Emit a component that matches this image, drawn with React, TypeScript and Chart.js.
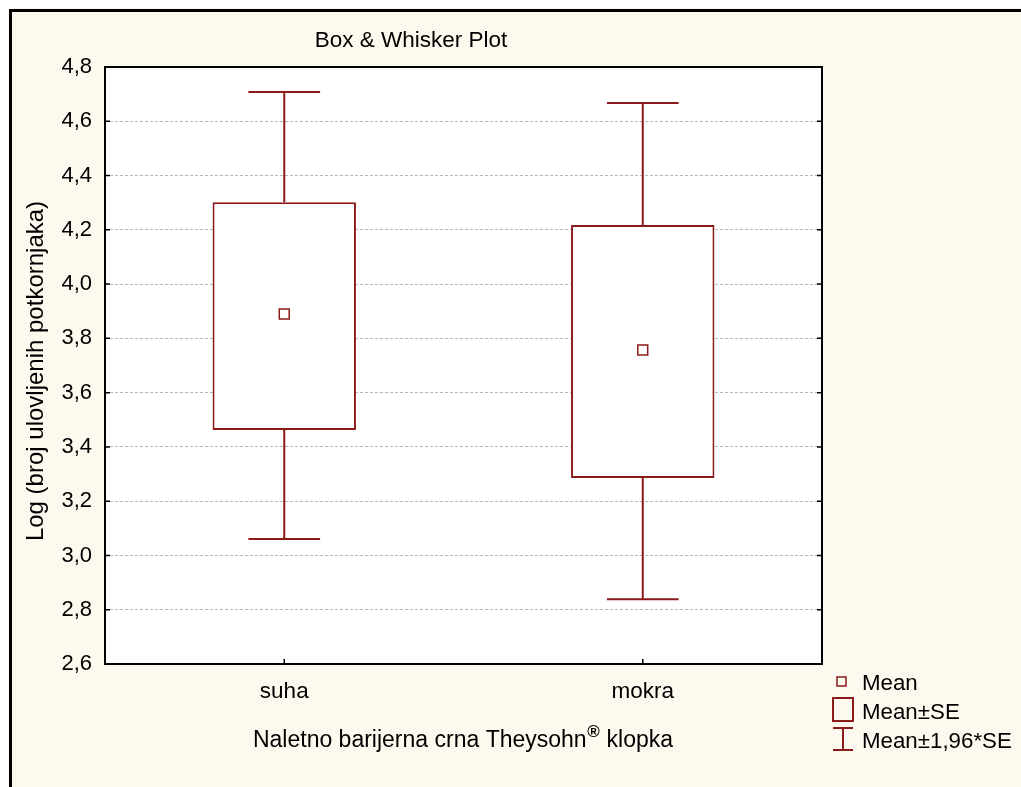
import React, { useEffect, useRef } from 'react';
import { Chart, registerables } from 'chart.js';

Chart.register(...registerables);

// ---- data ----
const categories = ['suha', 'mokra'];
const means = [3.89, 3.757];
const seLow = [3.462, 3.285];
const seHigh = [4.302, 4.218];
const ciLow = [3.061, 2.839];
const ciHigh = [4.708, 4.667];
const yTicks = [2.6, 2.8, 3.0, 3.2, 3.4, 3.6, 3.8, 4.0, 4.2, 4.4, 4.6, 4.8];
const legendLabels = ['Mean', 'Mean±SE', 'Mean±1,96*SE'];
const chartTitle = 'Box & Whisker Plot';
const xTitleParts = ['Naletno barijerna crna Theysohn', '®', ' klopka'];
const yTitle = 'Log (broj ulovljenih potkornjaka)';

const FONT = '"Liberation Sans", Arial, sans-serif';
const RED = '#8b1a1a';
const CREAM = '#fdf9ee';
const W = 1013;
const H = 779;

const statPlugin = {
  id: 'statPlot',
  beforeDraw(chart: any) {
    const { ctx, chartArea: a } = chart;
    ctx.save();
    ctx.fillStyle = CREAM;
    ctx.fillRect(0, 0, W, H);
    ctx.fillStyle = '#ffffff';
    ctx.fillRect(a.left, a.top, a.right - a.left, a.bottom - a.top);
    // outer frame (left & top visible)
    ctx.strokeStyle = '#000';
    ctx.lineWidth = 3;
    ctx.beginPath();
    ctx.moveTo(2.5, H + 5);
    ctx.lineTo(2.5, 2.5);
    ctx.lineTo(W + 5, 2.5);
    ctx.stroke();
    ctx.restore();
  },
  afterDatasetsDraw(chart: any) {
    const { ctx } = chart;
    const xs = chart.scales.x;
    const ys = chart.scales.y;
    const meta = chart.getDatasetMeta(0);
    ctx.save();
    ctx.strokeStyle = RED;
    ctx.lineWidth = 2;
    categories.forEach((_, i) => {
      const x = xs.getPixelForValue(i);
      const half = meta.data[i].width / 4;
      const yTopBox = ys.getPixelForValue(seHigh[i]);
      const yBotBox = ys.getPixelForValue(seLow[i]);
      const yHi = ys.getPixelForValue(ciHigh[i]);
      const yLo = ys.getPixelForValue(ciLow[i]);
      ctx.beginPath();
      ctx.moveTo(x, yTopBox);
      ctx.lineTo(x, yHi);
      ctx.moveTo(x - half, yHi);
      ctx.lineTo(x + half, yHi);
      ctx.moveTo(x, yBotBox);
      ctx.lineTo(x, yLo);
      ctx.moveTo(x - half, yLo);
      ctx.lineTo(x + half, yLo);
      ctx.stroke();
    });
    ctx.restore();
  },
  afterDraw(chart: any) {
    const { ctx, chartArea: a } = chart;
    const xs = chart.scales.x;
    const ys = chart.scales.y;
    ctx.save();
    // plot frame
    ctx.strokeStyle = '#000';
    ctx.lineWidth = 2;
    ctx.strokeRect(a.left, a.top, a.right - a.left, a.bottom - a.top);
    // inward tick marks
    ctx.lineWidth = 1.5;
    ctx.beginPath();
    yTicks.forEach((v) => {
      const y = ys.getPixelForValue(v);
      ctx.moveTo(a.left, y);
      ctx.lineTo(a.left + 5, y);
      ctx.moveTo(a.right, y);
      ctx.lineTo(a.right - 5, y);
    });
    categories.forEach((_, i) => {
      const x = xs.getPixelForValue(i);
      ctx.moveTo(x, a.bottom);
      ctx.lineTo(x, a.bottom - 5);
    });
    ctx.stroke();

    // titles
    ctx.fillStyle = '#000';
    ctx.font = `22.5px ${FONT}`;
    ctx.textBaseline = 'middle';
    ctx.textAlign = 'center';
    ctx.fillText(chartTitle, 403, 33);

    // x axis title with superscript
    const mainFont = `23px ${FONT}`;
    const supFont = `bold 17px ${FONT}`;
    ctx.font = mainFont;
    const w1 = ctx.measureText(xTitleParts[0]).width;
    const w3 = ctx.measureText(xTitleParts[2]).width;
    ctx.font = supFont;
    const w2 = ctx.measureText(xTitleParts[1]).width + 1;
    const total = w1 + w2 + w3;
    let tx = 455 - total / 2;
    ctx.textAlign = 'left';
    ctx.font = mainFont;
    ctx.fillText(xTitleParts[0], tx, 733);
    tx += w1;
    ctx.font = supFont;
    ctx.fillText(xTitleParts[1], tx + 0.5, 724);
    tx += w2;
    ctx.font = mainFont;
    ctx.fillText(xTitleParts[2], tx, 733);

    // y axis title
    ctx.save();
    ctx.translate(28, 363);
    ctx.rotate(-Math.PI / 2);
    ctx.textAlign = 'center';
    ctx.font = `24px ${FONT}`;
    ctx.fillText(yTitle, 0, 0);
    ctx.restore();

    // legend
    ctx.strokeStyle = RED;
    ctx.lineWidth = 1.5;
    ctx.strokeRect(829, 669, 9, 9);
    ctx.lineWidth = 2;
    ctx.strokeRect(825, 690, 20, 23);
    ctx.beginPath();
    ctx.moveTo(835, 720);
    ctx.lineTo(835, 742);
    ctx.moveTo(825, 720);
    ctx.lineTo(845, 720);
    ctx.moveTo(825, 742);
    ctx.lineTo(845, 742);
    ctx.stroke();
    ctx.fillStyle = '#000';
    ctx.font = `22.3px ${FONT}`;
    ctx.textAlign = 'left';
    const ly = [676, 704.5, 733.5];
    legendLabels.forEach((t, i) => ctx.fillText(t, 854, ly[i]));
    ctx.restore();
  },
};

export default function App() {
  const ref = useRef<HTMLCanvasElement | null>(null);
  useEffect(() => {
    if (!ref.current) return;
    Chart.defaults.font.family = FONT;
    Chart.defaults.color = '#000';
    const chart = new Chart(ref.current, {
      type: 'bar',
      data: {
        labels: categories,
        datasets: [
          {
            type: 'bar',
            label: 'Mean±SE',
            data: categories.map((_, i) => [seLow[i], seHigh[i]]) as any,
            backgroundColor: '#ffffff',
            borderColor: RED,
            borderWidth: 2,
            borderSkipped: false,
            barPercentage: 0.4,
            categoryPercentage: 1,
            order: 2,
          } as any,
          {
            type: 'line',
            label: 'Mean',
            data: means,
            showLine: false,
            pointStyle: 'rect',
            pointRadius: 7,
            pointBorderWidth: 1.5,
            pointBackgroundColor: '#ffffff',
            pointBorderColor: RED,
            order: 1,
          } as any,
        ],
      },
      options: {
        responsive: false,
        animation: false,
        layout: { padding: { left: 0, top: 59, right: 199, bottom: 0 } },
        plugins: {
          legend: { display: false },
          tooltip: { enabled: false },
          title: { display: false },
        },
        scales: {
          x: {
            type: 'category',
            offset: true,
            grid: { display: false, drawTicks: false },
            border: { display: false },
            ticks: { font: { size: 22.5 }, padding: 14, color: '#000' },
            afterFit: (s: any) => {
              s.height = H - 656;
            },
          },
          y: {
            type: 'linear',
            min: 2.6,
            max: 4.8,
            grid: { color: '#b8b8b8', lineWidth: 1, drawTicks: false },
            border: { display: false, dash: [3, 2] },
            ticks: {
              font: { size: 22 },
              padding: 13,
              color: '#000',
              callback: (v: any) => Number(v).toFixed(1).replace('.', ','),
            },
            afterBuildTicks: (s: any) => {
              s.ticks = yTicks.map((v) => ({ value: v }));
            },
            afterFit: (s: any) => {
              s.width = 97;
            },
          },
        },
      } as any,
      plugins: [statPlugin],
    });
    return () => chart.destroy();
  }, []);
  return (
    <div style={{ position: 'fixed', left: 8, top: 8, width: W, height: H }}>
      <canvas ref={ref} width={W} height={H} style={{ display: 'block' }} />
    </div>
  );
}
